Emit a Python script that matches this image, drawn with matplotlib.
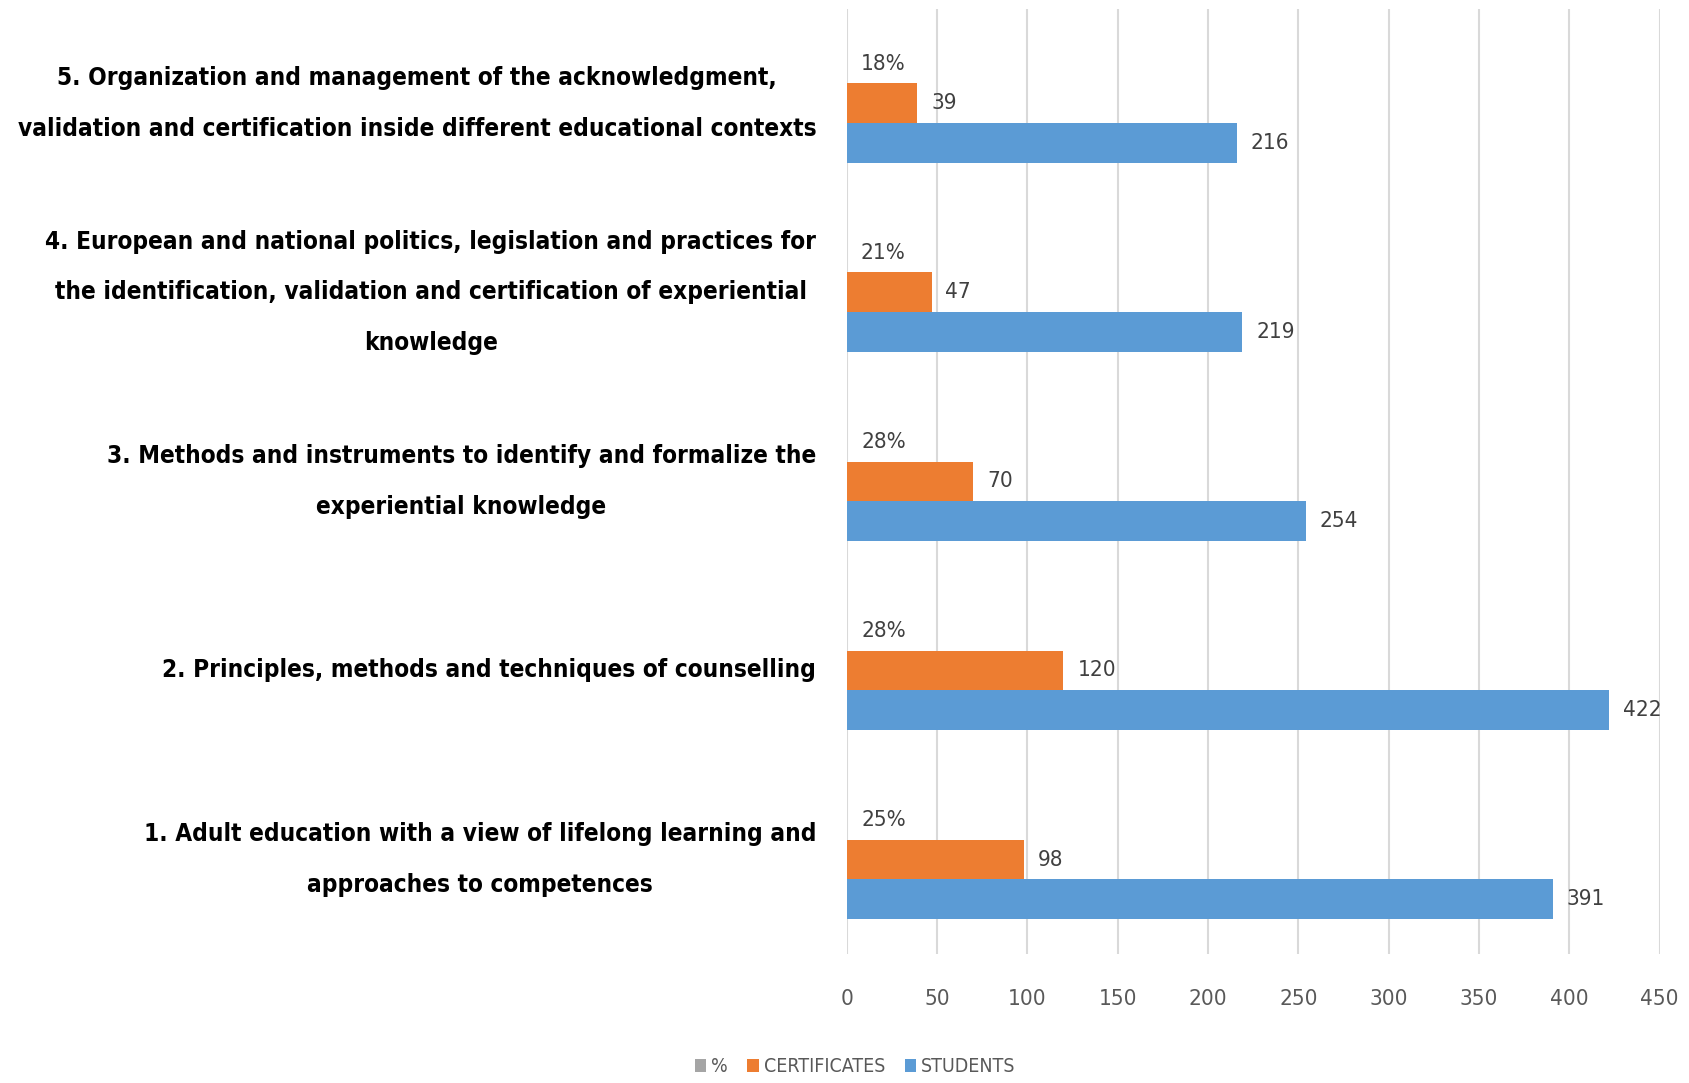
import matplotlib.pyplot as plt
from matplotlib import font_manager
import numpy as np

# data (bottom to top)
topics = [
    "1. Adult education with a view of lifelong learning and\napproaches to competences",
    "2. Principles, methods and techniques of counselling",
    "3. Methods and instruments to identify and formalize the\nexperiential knowledge",
    "4. European and national politics, legislation and practices for\nthe identification, validation and certification of experiential\nknowledge",
    "5. Organization and management of the acknowledgment,\nvalidation and certification inside different educational contexts",
]
students = [391, 422, 254, 219, 216]
certificates = [98, 120, 70, 47, 39]
percent = [25, 28, 28, 21, 18]

# use a condensed face if one is installed (reference uses a narrow font)
names = [(f.name, f.stretch) for f in font_manager.fontManager.ttflist]
stretch = 'normal'
if ('DejaVu Sans', 'condensed') in names or ('DejaVu Sans', 600) in names:
    stretch = 'condensed'
plt.rcParams['font.family'] = ['DejaVu Sans']
plt.rcParams['font.stretch'] = stretch

fig = plt.figure(figsize=(16.9, 10.83), dpi=100)
ax = fig.add_axes([0.501, 0.119, 0.481, 0.873])

# size the category labels so the widest line spans ~800 px like the reference
probe = fig.text(0, 0, "validation and certification inside different educational contexts",
                 fontsize=20, fontweight='bold', fontstretch=stretch)
w = probe.get_window_extent(fig.canvas.get_renderer()).width
probe.remove()
label_size = 20 * 800 / w
num_size = label_size * 0.92

y = np.arange(len(topics))
h = 0.21
c_pct, c_cert, c_stud = '#a5a5a5', '#ed7d31', '#5b9bd5'

b_pct = ax.barh(y + h, [p / 100 for p in percent], height=h, color=c_pct, label='%')
b_cert = ax.barh(y, certificates, height=h, color=c_cert, label='CERTIFICATES')
b_stud = ax.barh(y - h, students, height=h, color=c_stud, label='STUDENTS')

lab_kw = dict(padding=10, fontsize=num_size, color='#404040')
ax.bar_label(b_pct, labels=[f"{p}%" for p in percent], **lab_kw)
ax.bar_label(b_cert, **lab_kw)
ax.bar_label(b_stud, **lab_kw)

ax.set_xlim(0, 450)
ax.set_ylim(-0.5, 4.5)
ax.set_xticks(range(0, 451, 50))
ax.set_yticks(y)
ax.set_yticklabels([])
ax.tick_params(axis='y', length=0)
ax.tick_params(axis='x', length=0, pad=25, labelsize=num_size, labelcolor='#595959')

# category labels, centred on the orange bar of each group
for yi, t in zip(y, topics):
    ax.annotate(t, xy=(0, yi), xycoords=('axes fraction', 'data'),
                xytext=(-22, 0), textcoords='offset points',
                ha='right', va='center', multialignment='center', linespacing=2.4,
                fontsize=label_size, fontweight='bold', color='black')

ax.grid(axis='x', color='#d9d9d9', linewidth=1.5)
ax.set_axisbelow(True)
for s in ax.spines.values():
    s.set_visible(False)

fig.legend(handles=[b_pct, b_cert, b_stud], loc='lower center', ncol=3,
           bbox_to_anchor=(0.506, -0.01), frameon=False, fontsize=label_size * 0.8,
           handlelength=0.6, handleheight=0.6, handletextpad=0.25, columnspacing=1.0,
           labelcolor='#595959')

plt.savefig('out.png', dpi=100)
